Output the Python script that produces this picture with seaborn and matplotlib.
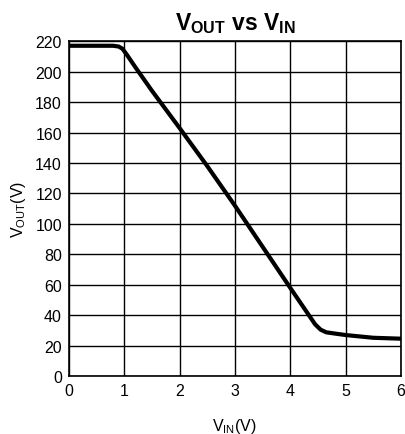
import numpy as np
import matplotlib
matplotlib.use("Agg")
import matplotlib.pyplot as plt
import seaborn as sns
import pandas as pd

# curve
v_in = [0.0, 0.5, 0.8, 0.9, 0.97, 1.05, 1.2, 1.5, 2.0, 2.5, 3.0, 3.5, 4.0, 4.3,
        4.45, 4.55, 4.65, 4.8, 5.0, 5.5, 6.0]
v_out = [217, 217, 217, 216.5, 215, 211, 203, 187.5, 163, 138, 112, 85, 58, 42,
         34, 30.5, 28.8, 28, 27, 25.2, 24.6]
x_ticks = [0, 1, 2, 3, 4, 5, 6]
y_ticks = list(range(0, 221, 20))

sns.set_style("white")
plt.rcParams['font.family'] = ['Liberation Sans', 'DejaVu Sans']
plt.rcParams['text.color'] = 'black'
plt.rcParams['axes.labelcolor'] = 'black'
plt.rcParams['mathtext.fontset'] = 'custom'
plt.rcParams['mathtext.rm'] = 'Liberation Sans'
plt.rcParams['mathtext.it'] = 'Liberation Sans'
plt.rcParams['mathtext.bf'] = 'Liberation Sans:bold'

df = pd.DataFrame({"vin": v_in, "vout": v_out})

fig = plt.figure(figsize=(4.05, 4.35), dpi=100)
ax = fig.add_axes([0.170, 0.133, 0.820, 0.770])
sns.lineplot(data=df, x="vin", y="vout", ax=ax, color="black", linewidth=3)

ax.set_xlim(0, 6)
ax.set_ylim(0, 220)
ax.set_xticks(x_ticks)
ax.set_yticks(y_ticks)
ax.grid(True, color="black", linewidth=1)
for s in ax.spines.values():
    s.set_color("black")
    s.set_linewidth(1.2)
ax.tick_params(length=0, labelsize=11.5, colors="black", pad=5)

ax.set_title(r"$\mathbf{V_{OUT}}$ $\mathbf{vs}$ $\mathbf{V_{IN}}$", fontsize=16.5, pad=9, color="black")
ax.set_xlabel(r"$\mathrm{V_{IN}(V)}$", fontsize=11.5, labelpad=13, color="black")
ax.set_ylabel(r"$\mathrm{V_{OUT}(V)}$", fontsize=11.5, labelpad=5, color="black")

fig.savefig("out.png", dpi=100)
